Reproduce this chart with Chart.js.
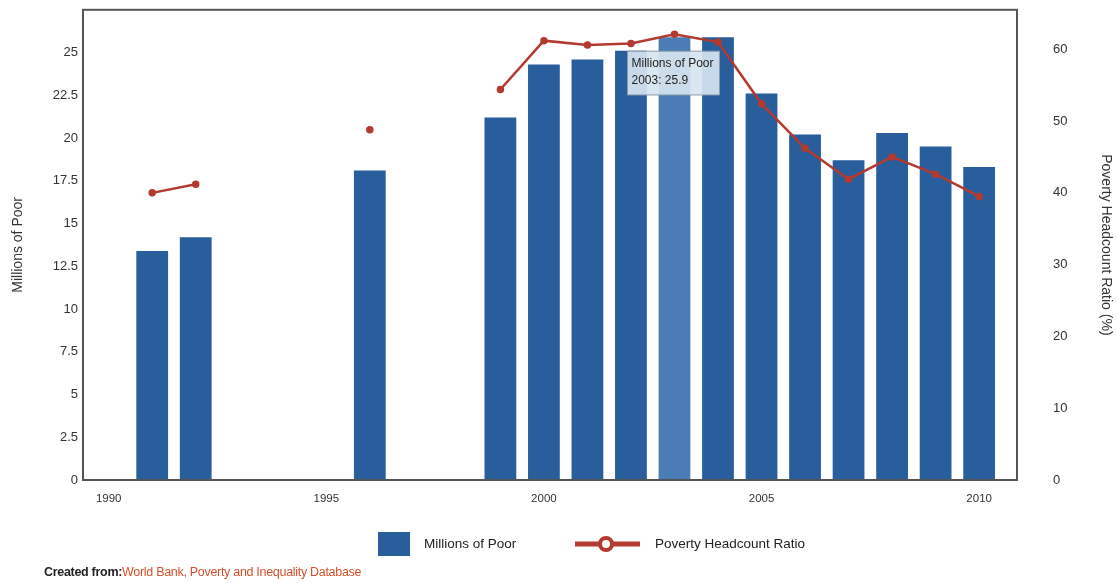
<!DOCTYPE html>
<html>
<head>
<meta charset="utf-8">
<script src="https://cdn.jsdelivr.net/npm/chart.js@4.4.1/dist/chart.umd.min.js"></script>
<style>
    html, body { margin: 0; padding: 0; background: #fff; }
    #wrap { position: relative; width: 1118px; height: 583px; }
    #fonte {
        position: absolute; left: 44px; top: 565px;
        font: 12.5px "Liberation Sans", Arial, sans-serif;
        color: #222; letter-spacing: -0.3px;
    }
    #fonte b { font-weight: bold; }
    #fonte span { color: #d4502c; }
</style>
</head>
<body>
<div id="wrap">
    <canvas id="graficoPobreza" width="1118" height="583"></canvas>
    <div id="fonte"><b>Created from:</b><span>World Bank, Poverty and Inequality Database</span></div>
</div>
<script>
const anos = [1990, 1991, 1992, 1993, 1994, 1995, 1996, 1997, 1998, 1999, 2000,
    2001, 2002, 2003, 2004, 2005, 2006, 2007, 2008, 2009, 2010];
const milhoesPobres = [null, 13.4, 14.2, null, null, null, 18.1, null, null, 21.2, 24.3,
    24.6, 25.1, 25.9, 25.9, 22.6, 20.2, 18.7, 20.3, 19.5, 18.3];
const taxaPobreza = [null, 40.0, 41.2, null, null, null, 48.8, null, null, 54.4, 61.2,
    60.6, 60.8, 62.1, 61.0, 52.4, 46.2, 41.9, 45.0, 42.6, 39.5];
const ticksAnos = [1990, 1995, 2000, 2005, 2010];
const ticksEsquerda = [0, 2.5, 5, 7.5, 10, 12.5, 15, 17.5, 20, 22.5, 25];
const ticksDireita = [0, 10, 20, 30, 40, 50, 60];

const fonte = "'Liberation Sans', Arial, sans-serif";
Chart.defaults.font.family = fonte;
Chart.defaults.color = "#333";

const azul = "#275e9b";
const azulClaro = "#4a7db6";
const vermelho = "#b23a2f";
const anoDestaque = 13;

Chart.Tooltip.positioners.fixo = function (elementos) {
    if (!elementos.length) return false;
    const el = elementos[0].element;
    return { x: el.x - 47, y: el.y + 14 };
};

// moldura em volta da área do gráfico + legenda desenhada à mão
const moldura = {
    id: "moldura",
    afterDraw(chart) {
        const ctx = chart.ctx;
        const a = chart.chartArea;
        ctx.save();
        ctx.strokeStyle = "#555";
        ctx.lineWidth = 2;
        ctx.strokeRect(a.left, a.top, a.right - a.left, a.bottom - a.top);

        // legenda
        const y = 544;
        ctx.fillStyle = azul;
        ctx.fillRect(378, y - 12, 32, 24);
        ctx.font = "13.5px " + fonte;
        ctx.fillStyle = "#222";
        ctx.textBaseline = "middle";
        ctx.fillText("Millions of Poor", 424, y);

        ctx.strokeStyle = vermelho;
        ctx.lineWidth = 5;
        ctx.beginPath();
        ctx.moveTo(575, y);
        ctx.lineTo(640, y);
        ctx.stroke();
        ctx.beginPath();
        ctx.arc(606, y, 6, 0, Math.PI * 2);
        ctx.fillStyle = "#fff";
        ctx.fill();
        ctx.lineWidth = 4;
        ctx.stroke();
        ctx.fillStyle = "#222";
        ctx.fillText("Poverty Headcount Ratio", 655, y);
        ctx.restore();
    }
};

// grade invisível: só serve para afastar os rótulos do eixo
const gradeOculta = (distancia) => ({
    drawOnChartArea: false,
    color: "rgba(0,0,0,0)",
    tickLength: distancia
});

const grafico = new Chart(document.getElementById("graficoPobreza"), {
    data: {
        datasets: [{
            type: "line",
            label: "Poverty Headcount Ratio",
            data: anos.map((a, i) => ({ x: a, y: taxaPobreza[i] })),
            yAxisID: "yDir",
            borderColor: vermelho,
            backgroundColor: vermelho,
            borderWidth: 2.5,
            pointRadius: 2.5,
            pointHoverRadius: 2.5,
            spanGaps: false,
            tension: 0,
            order: 0
        }, {
            type: "bar",
            label: "Millions of Poor",
            data: anos.map((a, i) => ({ x: a, y: milhoesPobres[i] })),
            yAxisID: "yEsq",
            backgroundColor: anos.map((a, i) => i === anoDestaque ? azulClaro : azul),
            hoverBackgroundColor: azulClaro,
            barPercentage: 0.73,
            categoryPercentage: 1,
            order: 1
        }]
    },
    options: {
        responsive: false,
        animation: false,
        events: [],
        layout: { padding: { top: 8, bottom: 73, left: 0, right: 0 } },
        plugins: {
            legend: { display: false },
            tooltip: {
                position: "fixo",
                xAlign: "left",
                yAlign: "top",
                caretSize: 0,
                caretPadding: 0,
                cornerRadius: 0,
                displayColors: false,
                backgroundColor: "rgba(214,229,240,0.92)",
                borderColor: "#8a9aa8",
                borderWidth: 1,
                titleColor: "#222",
                bodyColor: "#222",
                titleFont: { size: 12, weight: "normal" },
                bodyFont: { size: 12 },
                titleMarginBottom: 3,
                padding: { top: 5, bottom: 7, left: 4, right: 6 },
                callbacks: {
                    title: itens => itens[0].dataset.label,
                    label: item => item.raw.x + ": " + item.raw.y
                }
            }
        },
        scales: {
            x: {
                type: "linear",
                min: 1989.41,
                max: 2010.87,
                offset: false,
                grid: gradeOculta(12),
                border: { display: false },
                afterBuildTicks: s => { s.ticks = ticksAnos.map(v => ({ value: v })); },
                ticks: {
                    maxRotation: 0,
                    padding: 0,
                    font: { size: 11.5 },
                    callback: v => String(v)
                },
                afterFit: s => { s.height = 30; }
            },
            yEsq: {
                position: "left",
                min: 0,
                max: 27.5,
                grid: gradeOculta(5),
                border: { display: false },
                afterBuildTicks: s => { s.ticks = ticksEsquerda.map(v => ({ value: v })); },
                ticks: { padding: 0, font: { size: 13 } },
                title: {
                    display: true,
                    text: "Millions of Poor",
                    font: { size: 14 },
                    padding: { top: 10 }
                },
                afterFit: s => { s.width = 83; }
            },
            yDir: {
                position: "right",
                min: 0,
                max: 65.5,
                grid: gradeOculta(34),
                border: { display: false },
                afterBuildTicks: s => { s.ticks = ticksDireita.map(v => ({ value: v })); },
                ticks: { padding: 2, font: { size: 13 } },
                title: {
                    display: true,
                    text: "Poverty Headcount Ratio (%)",
                    font: { size: 14 },
                    padding: { bottom: 4 }
                },
                afterFit: s => { s.width = 101; }
            }
        }
    },
    plugins: [moldura]
});

const ativo = [{ datasetIndex: 1, index: anoDestaque }];
grafico.tooltip.setActiveElements(ativo, { x: 0, y: 0 });
grafico.update();
</script>
</body>
</html>
